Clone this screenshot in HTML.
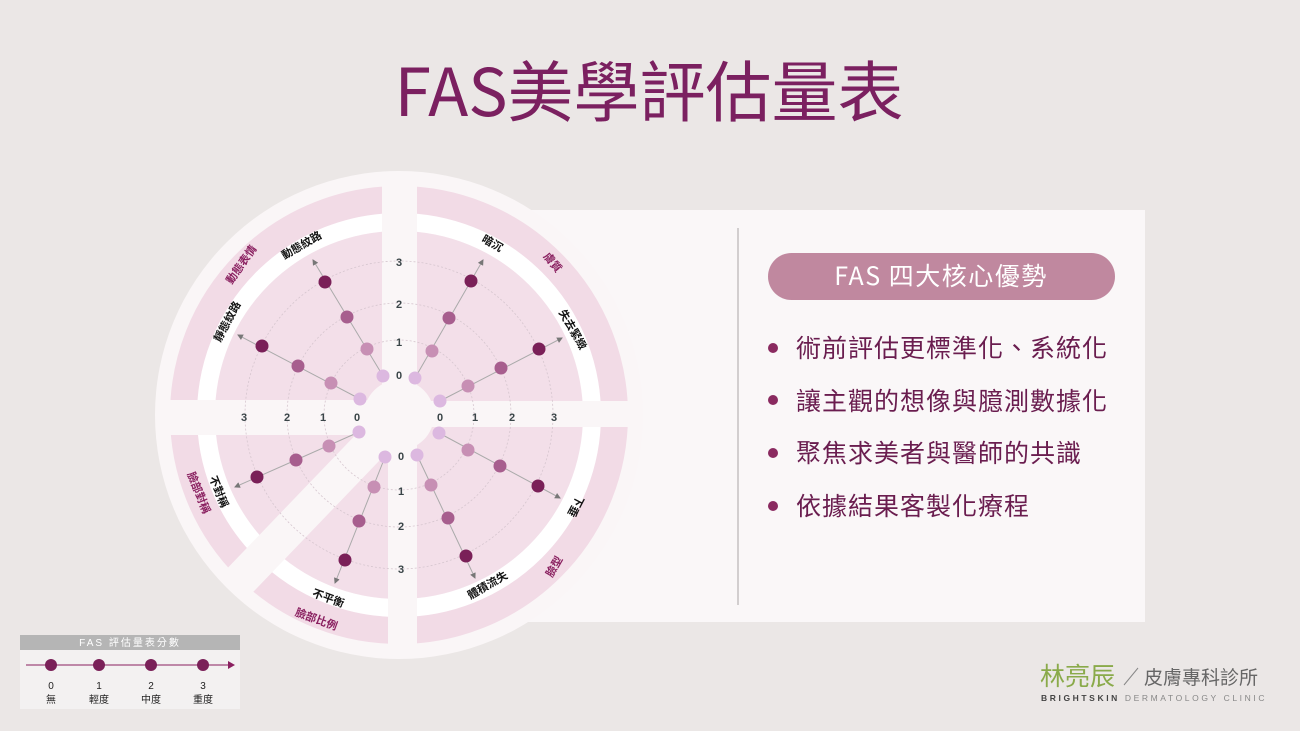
<!DOCTYPE html>
<html><head><meta charset="utf-8"><style>
body{margin:0;width:1300px;height:731px;overflow:hidden;background:#ebe7e6;font-family:"Liberation Sans","Noto Sans CJK TC",sans-serif}
svg{position:absolute;left:0;top:0}
</style></head><body>
<svg width="1300" height="731" viewBox="0 0 1300 731" font-family="Liberation Sans, Noto Sans CJK TC, sans-serif">
<defs>
<clipPath id="cc"><circle cx="399" cy="415" r="243"/></clipPath>
<marker id="ar" markerWidth="6" markerHeight="6" refX="5" refY="3" orient="auto"><path d="M0,0L6,3L0,6z" fill="#777"/></marker>
</defs>
<text x="649" y="116" text-anchor="middle" font-size="66" fill="#7b2060" font-family="Noto Sans CJK TC, sans-serif">FAS美學評估量表</text>
<rect x="400" y="210" width="745" height="412" fill="#faf7f8"/>
<circle cx="399" cy="415" r="244" fill="#faf6f7"/>
<circle cx="399" cy="415" r="215" fill="none" stroke="#f2dbe6" stroke-width="28"/>
<circle cx="399" cy="415" r="193" fill="none" stroke="#ffffff" stroke-width="18"/>
<circle cx="399" cy="415" r="184" fill="#f3dfe9"/>
<g clip-path="url(#cc)" fill="#faf6f7">
<rect x="382" y="160" width="35" height="255"/>
<rect x="388" y="415" width="29" height="250"/>
<rect x="150" y="400" width="250" height="35"/>
<rect x="399" y="401" width="250" height="26"/>
<line x1="399" y1="415" x2="200" y2="622" stroke="#faf6f7" stroke-width="35"/>
</g>
<circle cx="399" cy="415" r="35" fill="#faf6f7"/>
<g fill="none" stroke="#d6c6cf" stroke-width="0.8" stroke-dasharray="2 2">
<circle cx="399" cy="415" r="75"/><circle cx="399" cy="415" r="112"/><circle cx="399" cy="415" r="154"/>
</g>
<g font-size="11" font-weight="bold" fill="#3a4548" text-anchor="middle">
<text x="399" y="266">3</text><text x="399" y="308">2</text><text x="399" y="346">1</text><text x="399" y="379">0</text>
<text x="244" y="421">3</text><text x="287" y="421">2</text><text x="323" y="421">1</text><text x="357" y="421">0</text>
<text x="440" y="421">0</text><text x="475" y="421">1</text><text x="512" y="421">2</text><text x="554" y="421">3</text>
<text x="401" y="460">0</text><text x="401" y="495">1</text><text x="401" y="530">2</text><text x="401" y="573">3</text>
</g>
<g stroke="#aaa" stroke-width="1" marker-end="url(#ar)">
<line x1="383" y1="376" x2="313" y2="260"/>
<line x1="360" y1="399" x2="238" y2="335"/>
<line x1="415" y1="378" x2="483" y2="260"/>
<line x1="440" y1="401" x2="562" y2="338"/>
<line x1="439" y1="433" x2="560" y2="498"/>
<line x1="417" y1="455" x2="475" y2="578"/>
<line x1="385" y1="457" x2="335" y2="583"/>
<line x1="359" y1="432" x2="235" y2="487"/>
</g>
<g fill="#dcb8e0">
<circle cx="383" cy="376" r="6.5"/><circle cx="360" cy="399" r="6.5"/><circle cx="415" cy="378" r="6.5"/><circle cx="440" cy="401" r="6.5"/>
<circle cx="439" cy="433" r="6.5"/><circle cx="417" cy="455" r="6.5"/><circle cx="385" cy="457" r="6.5"/><circle cx="359" cy="432" r="6.5"/>
</g>
<g fill="#c78fb4">
<circle cx="367" cy="349" r="6.5"/><circle cx="331" cy="383" r="6.5"/><circle cx="432" cy="351" r="6.5"/><circle cx="468" cy="386" r="6.5"/>
<circle cx="468" cy="450" r="6.5"/><circle cx="431" cy="485" r="6.5"/><circle cx="374" cy="487" r="6.5"/><circle cx="329" cy="446" r="6.5"/>
</g>
<g fill="#a75e8e">
<circle cx="347" cy="317" r="6.5"/><circle cx="298" cy="366" r="6.5"/><circle cx="449" cy="318" r="6.5"/><circle cx="501" cy="368" r="6.5"/>
<circle cx="500" cy="466" r="6.5"/><circle cx="448" cy="518" r="6.5"/><circle cx="359" cy="521" r="6.5"/><circle cx="296" cy="460" r="6.5"/>
</g>
<g fill="#7a2058">
<circle cx="325" cy="282" r="6.5"/><circle cx="262" cy="346" r="6.5"/><circle cx="471" cy="281" r="6.5"/><circle cx="539" cy="349" r="6.5"/>
<circle cx="538" cy="486" r="6.5"/><circle cx="466" cy="556" r="6.5"/><circle cx="345" cy="560" r="6.5"/><circle cx="257" cy="477" r="6.5"/>
</g>
<g font-size="11" font-weight="bold" fill="#111" text-anchor="middle" dominant-baseline="middle">
<text transform="translate(302,246) rotate(-30)">動態紋路</text>
<text transform="translate(228,322) rotate(-62)">靜態紋路</text>
<text transform="translate(492,244) rotate(30)">暗沉</text>
<text transform="translate(572,330) rotate(60)">失去緊緻</text>
<text transform="translate(575,506) rotate(118)">下垂</text>
<text transform="translate(488,586) rotate(-30)">體積流失</text>
<text transform="translate(328,599) rotate(20)">不平衡</text>
<text transform="translate(218,492) rotate(68)">不對稱</text>
</g>
<g font-size="11" font-weight="bold" fill="#8a2060" text-anchor="middle" dominant-baseline="middle">
<text transform="translate(242,265) rotate(-55)">動態表情</text>
<text transform="translate(552,263) rotate(50)">膚質</text>
<text transform="translate(555,567) rotate(-60)">臉型</text>
<text transform="translate(316,620) rotate(20)">臉部比例</text>
<text transform="translate(198,493) rotate(68)">臉部對稱</text>
</g>
<line x1="738" y1="228" x2="738" y2="605" stroke="#a9a4a6" stroke-width="1"/>
<rect x="768" y="253" width="347" height="47" rx="23.5" fill="#c0889f"/>
<text x="941" y="285" text-anchor="middle" font-size="25" fill="#fff" letter-spacing="1.5" font-family="Noto Sans CJK TC, sans-serif">FAS 四大核心優勢</text>
<g fill="#8a2a60"><circle cx="773" cy="348" r="5"/><circle cx="773" cy="400" r="5"/><circle cx="773" cy="453" r="5"/><circle cx="773" cy="506" r="5"/></g>
<g font-size="25" fill="#6a1d4f" letter-spacing="1" font-family="Noto Sans CJK TC, sans-serif">
<text x="796" y="357">術前評估更標準化、系統化</text>
<text x="796" y="410">讓主觀的想像與臆測數據化</text>
<text x="796" y="462">聚焦求美者與醫師的共識</text>
<text x="796" y="515">依據結果客製化療程</text>
</g>
<rect x="20" y="635" width="220" height="74" fill="#f3f1f1"/>
<rect x="20" y="635" width="220" height="15" fill="#b5b5b5"/>
<text x="130" y="646" text-anchor="middle" font-size="10" fill="#fff" letter-spacing="2">FAS 評估量表分數</text>
<line x1="26" y1="665" x2="228" y2="665" stroke="#8a2060" stroke-width="1"/>
<path d="M228,661L235,665L228,669z" fill="#8a2060"/>
<g fill="#7a2058"><circle cx="51" cy="665" r="6"/><circle cx="99" cy="665" r="6"/><circle cx="151" cy="665" r="6"/><circle cx="203" cy="665" r="6"/></g>
<g font-size="10" fill="#222" text-anchor="middle">
<text x="51" y="689">0</text><text x="99" y="689">1</text><text x="151" y="689">2</text><text x="203" y="689">3</text>
<text x="51" y="703">無</text><text x="99" y="703">輕度</text><text x="151" y="703">中度</text><text x="203" y="703">重度</text>
</g>
<text x="1040" y="685" font-size="25" fill="#8aaa4a" font-family="Noto Sans CJK TC, sans-serif">林亮辰</text>
<line x1="1124" y1="685" x2="1138" y2="668" stroke="#888" stroke-width="1"/>
<text x="1144" y="684" font-size="19" fill="#666" font-family="Noto Sans CJK TC, sans-serif">皮膚專科診所</text>
<text x="1041" y="701" font-size="8.5" fill="#444" letter-spacing="2.6" font-weight="bold">BRIGHTSKIN <tspan font-weight="normal" fill="#888">DERMATOLOGY CLINIC</tspan></text>
</svg>
</body></html>
